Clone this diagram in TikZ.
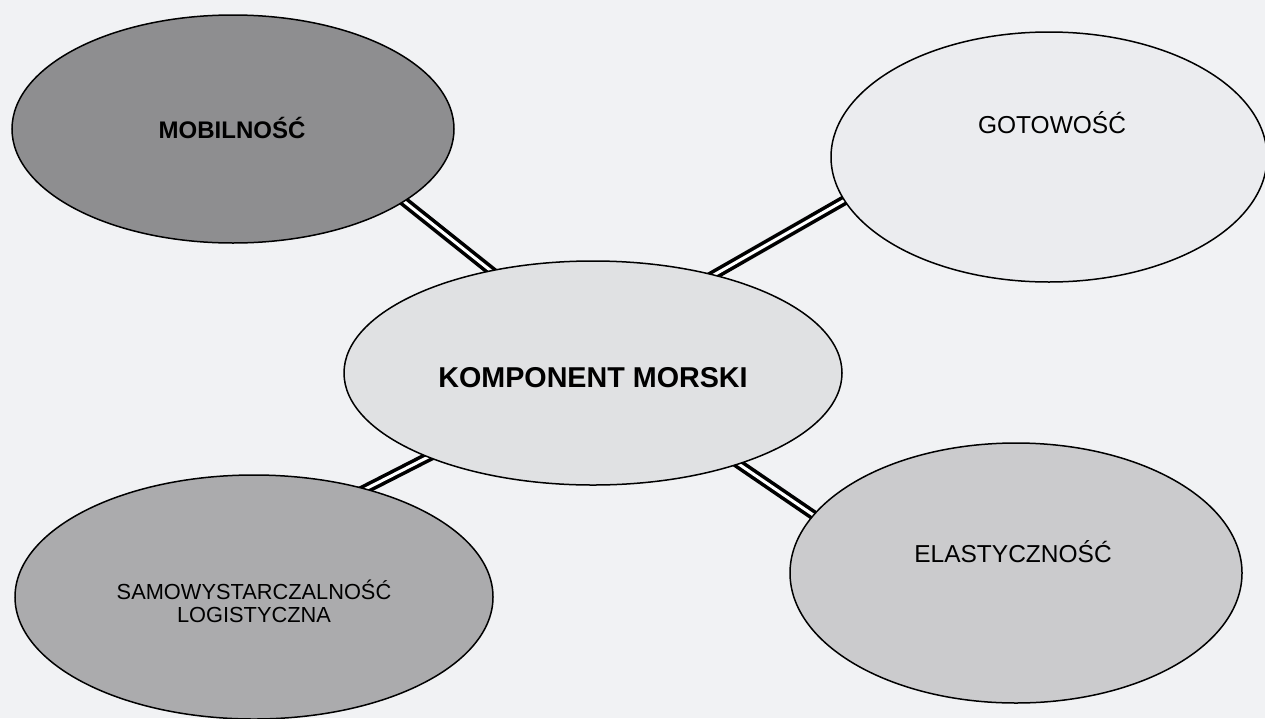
\documentclass[tikz,border=0pt]{standalone}
\usepackage{fontspec}
\setmainfont{Liberation Sans}
\usetikzlibrary{shapes.geometric,backgrounds}
\definecolor{bgc}{HTML}{F1F2F4}
\definecolor{cmob}{HTML}{8E8E90}
\definecolor{cgot}{HTML}{EBECEF}
\definecolor{ccen}{HTML}{E0E1E3}
\definecolor{csam}{HTML}{ABABAD}
\definecolor{cela}{HTML}{CBCBCD}
\begin{document}
\begin{tikzpicture}[x=1pt,y=-1pt,
  oval/.style={ellipse, draw=black, line width=1.5pt, inner sep=0pt},
  lbl/.style={font=\fontsize{24.5}{28}\selectfont, align=center, inner sep=0pt},
  conn/.style={draw=black, line width=3.6pt, double=white, double distance=3pt, shorten <=-8pt, shorten >=-8pt}]
\useasboundingbox (0,0) rectangle (1265,718);
\node[oval, fill=cmob, minimum width=442pt, minimum height=228pt] (mob) at (233,129) {};
\node[oval, fill=cgot, minimum width=436pt, minimum height=250pt] (got) at (1049,157) {};
\node[oval, fill=ccen, minimum width=498pt, minimum height=224pt] (cen) at (593,373) {};
\node[oval, fill=csam, minimum width=478pt, minimum height=244pt] (sam) at (254,597) {};
\node[oval, fill=cela, minimum width=452pt, minimum height=260pt] (ela) at (1016,573) {};
\node[lbl, font=\fontsize{24}{28}\selectfont\bfseries] (mobT) at (232,128) {MOBILNOŚĆ};
\node[lbl] (gotT) at (1052,123) {GOTOWOŚĆ};
\node[lbl, font=\fontsize{28.7}{33}\selectfont\bfseries] (cenT) at (593,378) {KOMPONENT MORSKI};
\node[lbl, font=\fontsize{21.8}{23}\selectfont] (samT) at (254,601) {SAMOWYSTARCZALNOŚĆ\\LOGISTYCZNA};
\node[lbl] (elaT) at (1013,552) {ELASTYCZNOŚĆ};
\begin{scope}[on background layer]
\fill[bgc] (0,0) rectangle (1265,718);
\draw[conn] (mob.-23) -- (cen.135);
\draw[conn] (got.-168) -- (cen.39);
\draw[conn] (sam.44) -- (cen.-153);
\draw[conn] (ela.164) -- (cen.-32);
\end{scope}
\end{tikzpicture}
\end{document}
